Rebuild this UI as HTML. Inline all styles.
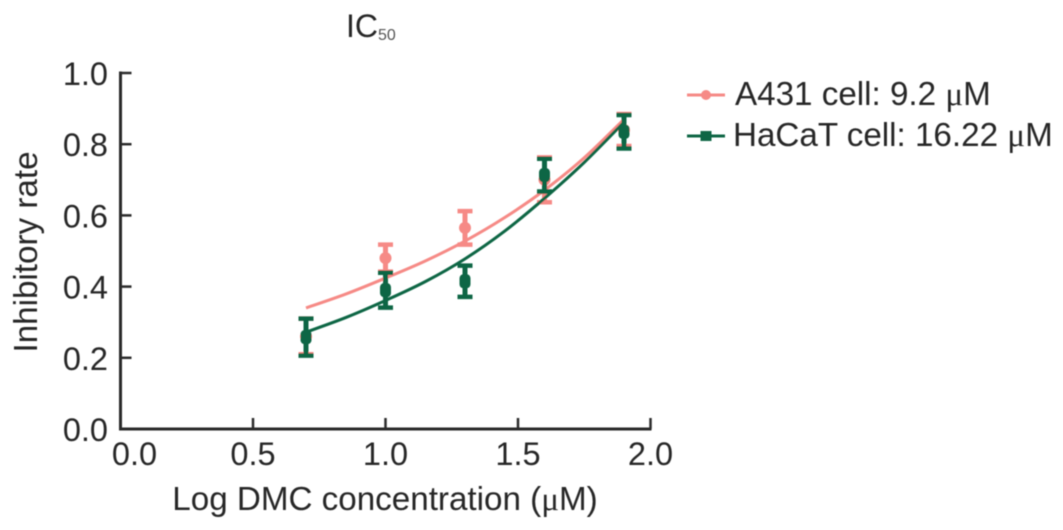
<!DOCTYPE html>
<html>
<head>
<meta charset="utf-8">
<style>
html,body{margin:0;padding:0;background:#fff;width:1063px;height:530px;overflow:hidden}
svg{display:block}
text{font-family:"Liberation Sans",sans-serif;fill:#262626}
.mu{font-family:"Liberation Serif",serif}
</style>
</head>
<body>
<svg id="chart" width="1063" height="530" viewBox="0 0 1063 530" xmlns="http://www.w3.org/2000/svg">
<defs><filter id="soft"><feGaussianBlur stdDeviation="0.6"/></filter></defs>
<g id="root" filter="url(#soft)">
<text x="346" y="37" font-size="32">IC<tspan font-size="16" dy="3" fill="#555">50</tspan></text>
<text transform="translate(37 252) rotate(-90)" text-anchor="middle" font-size="33.2">Inhibitory rate</text>
<text x="385" y="510" text-anchor="middle" font-size="33.2">Log DMC concentration (<tspan class="mu">μ</tspan>M)</text>
<g id="axes"></g>
<g id="marks"></g>
<g id="legend"></g>
</g>
</svg>
<script>
const xTicks = [0.0, 0.5, 1.0, 1.5, 2.0];
const yTicks = [0.0, 0.2, 0.4, 0.6, 0.8, 1.0];
const doses = [0.7, 1.0, 1.3, 1.6, 1.9];
const a431Mean = [0.26, 0.48, 0.565, 0.70, 0.84];
const a431Err = [0.05, 0.038, 0.047, 0.063, 0.045];
const hacatMean = [0.258, 0.39, 0.415, 0.713, 0.835];
const hacatErr = [0.052, 0.049, 0.044, 0.046, 0.047];
const fitDoses = [0.7, 0.85, 1.0, 1.15, 1.3, 1.45, 1.6, 1.75, 1.9];
const a431Fit = [0.34, 0.379, 0.424, 0.472, 0.528, 0.594, 0.671, 0.762, 0.87];
const hacatFit = [0.272, 0.313, 0.361, 0.414, 0.478, 0.556, 0.648, 0.749, 0.862];
const seriesNames = ['a431', 'hacat'];
const legendLabels = ['A431 cell: 9.2 ', 'HaCaT cell: 16.22 '];

const NS = 'http://www.w3.org/2000/svg';
const X = v => 120.5 + v * 265;
const Y = v => 429 - v * 356;
const DARK = '#2a2a2a', PINK = '#f68a86', GREEN = '#0b6645';

function mk(parent, tag, attrs, txt) {
  const e = document.createElementNS(NS, tag);
  for (const k in attrs) e.setAttribute(k, attrs[k]);
  if (txt !== undefined) e.textContent = txt;
  parent.appendChild(e);
  return e;
}
function smooth(xs, ys) {
  const p = xs.map((x, i) => [X(x), Y(ys[i])]);
  let d = 'M' + p[0][0] + ' ' + p[0][1];
  for (let i = 0; i < p.length - 1; i++) {
    const a = p[Math.max(i - 1, 0)], b = p[i], c = p[i + 1], e = p[Math.min(i + 2, p.length - 1)];
    d += ' C' + (b[0] + (c[0] - a[0]) / 6) + ' ' + (b[1] + (c[1] - a[1]) / 6) + ' ' +
      (c[0] - (e[0] - b[0]) / 6) + ' ' + (c[1] - (e[1] - b[1]) / 6) + ' ' + c[0] + ' ' + c[1];
  }
  return d;
}

const axes = document.getElementById('axes');
const xLine = mk(axes, 'line', {x1: X(0) - 1.5, x2: X(2) + 1, y1: Y(0), y2: Y(0), stroke: DARK, 'stroke-width': 3});


const yLine = mk(axes, 'line', {x1: X(0), x2: X(0), y1: Y(0), y2: Y(1) - 1.5, stroke: DARK, 'stroke-width': 3});



xTicks.forEach(t => {
  if (t > 0) {
    const k = mk(axes, 'line', {x1: X(t), x2: X(t), y1: Y(0), y2: Y(0) - 11, stroke: DARK, 'stroke-width': 2.5});
    
    
  }
  const l = mk(axes, 'text', {x: X(t) + (t === 0 ? 14 : 0), y: 465, 'text-anchor': 'middle', 'font-size': 32.5}, t.toFixed(1));
  
  
});
yTicks.forEach(t => {
  if (t > 0) {
    const k = mk(axes, 'line', {x1: X(0), x2: X(0) + 11, y1: Y(t), y2: Y(t), stroke: DARK, 'stroke-width': 2.5});
    
    
  }
  const l = mk(axes, 'text', {x: 108, y: Y(t) + 12, 'text-anchor': 'end', 'font-size': 32.5}, t.toFixed(1));
  
  
});

const marks = document.getElementById('marks');
function drawSeries(name, means, errs, fit, color, square) {
  const g = mk(marks, 'g', {});
  
  
  const f = mk(g, 'path', {d: smooth(fitDoses, fit), fill: 'none', stroke: color, 'stroke-width': 3});
  
  
  doses.forEach((x, i) => {
    const px = X(x), hi = Y(means[i] + errs[i]), lo = Y(means[i] - errs[i]), my = Y(means[i]);
    const caps = mk(g, 'path', {
      d: 'M' + (px - 7.5) + ' ' + hi + 'H' + (px + 7.5) + 'M' + (px - 7.5) + ' ' + lo + 'H' + (px + 7.5),
      fill: 'none', stroke: color, 'stroke-width': 4.5
    });
    
    
    const stem = mk(g, 'line', {x1: px, x2: px, y1: hi, y2: lo, stroke: color, 'stroke-width': 5});
    
    
    const pt = square
      ? mk(g, 'rect', {x: px - 5.5, y: my - 7, width: 11, height: 14, rx: 4, fill: color})
      : mk(g, 'circle', {cx: px, cy: my, r: 6, fill: color});
    
    
  });
}
drawSeries(seriesNames[0], a431Mean, a431Err, a431Fit, PINK, false);
drawSeries(seriesNames[1], hacatMean, hacatErr, hacatFit, GREEN, true);

const legend = document.getElementById('legend');
const colors = [PINK, GREEN];
legendLabels.forEach((label, i) => {
  const cy = 95 + i * 41;
  const row = mk(legend, 'g', {});
  
  
  const ln = mk(row, 'line', {x1: 687, x2: 725, y1: cy, y2: cy, stroke: colors[i], 'stroke-width': 3});
  
  
  const mark = i === 0
    ? mk(row, 'circle', {cx: 706, cy: cy, r: 5, fill: colors[i]})
    : mk(row, 'rect', {x: 700.5, y: cy - 5, width: 11, height: 10, fill: colors[i]});
  
  
  const t = mk(row, 'text', {x: i === 0 ? 735 : 733, y: cy + 10, 'font-size': 33.2}, label);
  
  
  const mu = mk(t, 'tspan', {class: 'mu'}, 'μ');
  
  
  const m = mk(t, 'tspan', {}, 'M');
  
  
});
</script>
</body>
</html>
